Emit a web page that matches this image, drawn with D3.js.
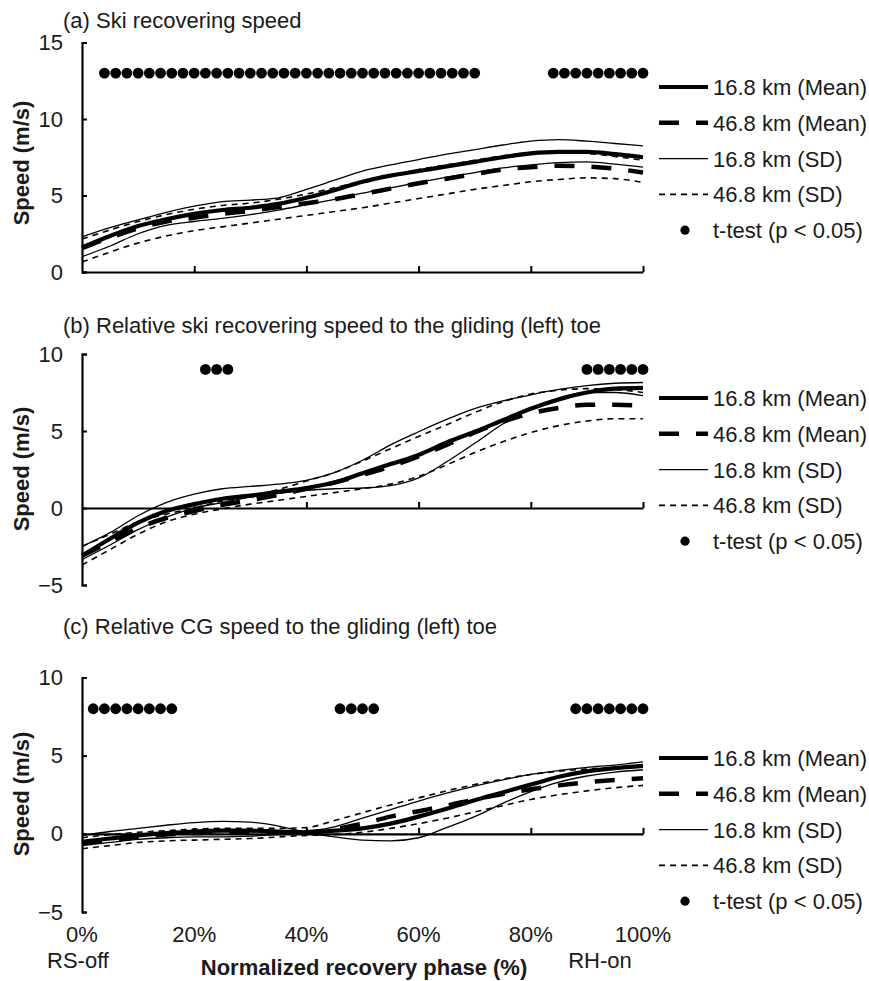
<!DOCTYPE html>
<html>
<head>
<meta charset="utf-8">
<script src="https://cdn.jsdelivr.net/npm/d3@7"></script>
<style>
  html, body { margin: 0; padding: 0; background: #fff; }
  svg { display: block; }
  text { font-family: Arial, "Liberation Sans", sans-serif; fill: #1a1a1a; }
</style>
</head>
<body>
<svg id="chart" width="869" height="981"></svg>
<script>
// ---------- DATA ----------
const phase = [0,5,10,15,20,25,30,35,40,45,50,55,60,65,70,75,80,85,90,95,100];

// (a) Ski recovering speed
const a_m16 = [1.6,2.35,3.0,3.45,3.8,4.05,4.2,4.45,4.85,5.35,5.9,6.3,6.6,6.9,7.2,7.5,7.75,7.85,7.85,7.7,7.5];
const a_u16 = [2.3,2.9,3.4,3.9,4.3,4.6,4.7,4.85,5.4,6.0,6.6,7.0,7.35,7.7,8.0,8.3,8.55,8.65,8.55,8.4,8.25];
const a_l16 = [1.0,1.7,2.5,3.05,3.3,3.5,3.75,4.05,4.4,4.75,5.15,5.5,5.85,6.2,6.5,6.8,7.0,7.15,7.2,7.05,6.85];
const a_m46 = [1.55,2.25,2.85,3.3,3.55,3.8,4.0,4.25,4.5,4.75,5.1,5.45,5.8,6.1,6.4,6.7,6.85,6.95,6.9,6.75,6.5];
const a_u46 = [2.15,2.75,3.3,3.75,4.1,4.35,4.5,4.75,5.1,5.5,5.95,6.3,6.7,7.0,7.3,7.6,7.75,7.8,7.75,7.55,7.3];
const a_l46 = [0.65,1.3,1.9,2.35,2.7,2.95,3.2,3.45,3.7,3.95,4.2,4.5,4.8,5.1,5.4,5.65,5.9,6.05,6.15,6.1,5.85];
const a_sig = [4,6,8,10,12,14,16,18,20,22,24,26,28,30,32,34,36,38,40,42,44,46,48,50,52,54,56,58,60,62,64,66,68,70,84,86,88,90,92,94,96,98,100];

// (b) Relative ski recovering speed to the gliding (left) toe
const b_m16 = [-3.1,-2.0,-0.95,-0.2,0.25,0.6,0.8,1.05,1.3,1.65,2.25,2.85,3.45,4.25,4.95,5.7,6.45,7.05,7.5,7.75,7.8];
const b_u16 = [-2.5,-1.6,-0.5,0.35,0.9,1.25,1.4,1.55,1.8,2.3,3.1,4.1,4.95,5.75,6.45,6.95,7.35,7.7,7.95,8.1,8.15];
const b_l16 = [-3.35,-2.4,-1.4,-0.6,0.0,0.35,0.7,0.95,1.15,1.25,1.3,1.45,1.95,3.0,4.2,5.45,6.45,7.15,7.5,7.5,7.3];
const b_m46 = [-3.1,-2.2,-1.3,-0.65,-0.2,0.2,0.5,0.85,1.25,1.65,2.15,2.7,3.35,4.1,4.9,5.6,6.15,6.5,6.7,6.7,6.65];
const b_u46 = [-2.5,-1.7,-0.9,-0.4,0.0,0.45,0.75,1.2,1.75,2.3,3.05,3.85,4.65,5.4,6.2,6.9,7.4,7.65,7.75,7.7,7.5];
const b_l46 = [-3.7,-2.7,-1.7,-0.9,-0.4,-0.05,0.25,0.5,0.75,1.0,1.25,1.55,2.05,2.8,3.6,4.3,4.9,5.35,5.65,5.8,5.8];
const b_sig = [22,24,26,90,92,94,96,98,100];

// (c) Relative CG speed to the gliding (left) toe
const c_m16 = [-0.5,-0.3,-0.1,0.05,0.15,0.2,0.2,0.15,0.1,0.2,0.35,0.65,1.1,1.6,2.15,2.65,3.15,3.65,4.0,4.2,4.35];
const c_u16 = [-0.1,0.15,0.35,0.55,0.72,0.8,0.75,0.5,0.15,0.45,1.0,1.55,2.1,2.6,3.05,3.45,3.8,4.05,4.25,4.4,4.6];
const c_l16 = [-0.75,-0.55,-0.35,-0.25,-0.2,-0.2,-0.15,-0.05,0.0,-0.2,-0.4,-0.45,-0.25,0.4,1.1,1.95,2.7,3.3,3.7,3.95,4.1];
const c_m46 = [-0.6,-0.4,-0.2,-0.05,0.05,0.1,0.1,0.1,0.1,0.3,0.65,1.1,1.45,1.8,2.2,2.55,2.85,3.1,3.3,3.45,3.55];
const c_u46 = [-0.25,-0.05,0.1,0.2,0.3,0.35,0.35,0.35,0.4,0.85,1.35,1.85,2.3,2.75,3.15,3.5,3.8,4.0,4.15,4.25,4.35];
const c_l46 = [-0.95,-0.75,-0.55,-0.45,-0.4,-0.35,-0.3,-0.2,-0.1,-0.05,0.1,0.35,0.65,1.0,1.4,1.8,2.2,2.5,2.75,2.95,3.1];
const c_sig = [2,4,6,8,10,12,14,16,46,48,50,52,88,90,92,94,96,98,100];

const sigLevels = [13, 9, 8];
const panelTitles = [
  "(a) Ski recovering speed",
  "(b) Relative ski recovering speed to the gliding (left) toe",
  "(c) Relative CG speed to the gliding (left) toe"
];
const yDomains = [[0, 15], [-5, 10], [-5, 10]];
const yTickVals = [[0, 5, 10, 15], [-5, 0, 5, 10], [-5, 0, 5, 10]];
const xTickVals = [0, 20, 40, 60, 80, 100];
const xTickLabels = ["0%", "20%", "40%", "60%", "80%", "100%"];
const legendLabels = ["16.8 km (Mean)", "46.8 km (Mean)", "16.8 km (SD)", "46.8 km (SD)", "t-test (p < 0.05)"];
const yLabel = "Speed (m/s)";
const xLabel = "Normalized recovery phase (%)";
const phaseEvents = ["RS-off", "RH-on"];

// ---------- LAYOUT ----------
const svg = d3.select("#chart");
const FS = 22;
const x = d3.scaleLinear().domain([0, 100]).range([82, 643]);

const panels = [
  { series: [a_u16, a_l16, a_u46, a_l46, a_m46, a_m16], sig: a_sig, range: [272, 42.5], titleY: 28, ylabY: 163, legY: 87 },
  { series: [b_u16, b_l16, b_u46, b_l46, b_m46, b_m16], sig: b_sig, range: [585, 354], titleY: 333, ylabY: 469, legY: 398 },
  { series: [c_u16, c_l16, c_u46, c_l46, c_m46, c_m16], sig: c_sig, range: [912, 677.5], titleY: 634, ylabY: 794, legY: 758 }
];

// styles: order = u16, l16, u46, l46, m46, m16
const styles = [
  { w: 1.3, dash: null },
  { w: 1.3, dash: null },
  { w: 1.6, dash: "6,5" },
  { w: 1.6, dash: "6,5" },
  { w: 4.5, dash: "20,17" },
  { w: 4.2, dash: null }
];
const legendStyles = [styles[5], styles[4], styles[0], styles[2]];

panels.forEach((p, i) => {
  const y = d3.scaleLinear().domain(yDomains[i]).range(p.range);
  const g = svg.append("g");

  // title
  g.append("text").attr("x", 63).attr("y", p.titleY)
    .style("font-size", FS + "px").text(panelTitles[i]);

  // y label
  g.append("text")
    .attr("transform", `translate(29,${p.ylabY}) rotate(-90)`)
    .attr("text-anchor", "middle")
    .style("font-size", FS + "px").style("font-weight", "bold")
    .text(yLabel);

  // y axis
  const yAxis = d3.axisLeft(y).tickValues(yTickVals[i]).tickSizeInner(-5).tickSizeOuter(-5).tickPadding(19)
    .tickFormat(d3.format("d"));
  const ya = g.append("g").attr("transform", `translate(${x(0)},0)`).call(yAxis);
  ya.selectAll("text").style("font-size", FS + "px").attr("fill", "#1a1a1a")
    .style("font-family", "Arial, 'Liberation Sans', sans-serif");
  ya.select(".domain").attr("stroke-width", 2.2);
  ya.selectAll(".tick line").attr("stroke-width", 2);

  // x axis at zero
  const xAxis = d3.axisBottom(x).tickValues(xTickVals.slice(1)).tickSizeInner(-6).tickSizeOuter(0).tickFormat("");
  const xa = g.append("g").attr("transform", `translate(0,${y(0)})`).call(xAxis);
  xa.select(".domain").attr("stroke-width", 2.2);
  xa.selectAll(".tick line").attr("stroke-width", 2);

  // lines
  const line = d3.line().x((d, k) => x(phase[k])).y(d => y(d)).curve(d3.curveMonotoneX);
  p.series.forEach((s, k) => {
    g.append("path").datum(s)
      .attr("d", line)
      .attr("fill", "none")
      .attr("stroke", "#000")
      .attr("stroke-width", styles[k].w)
      .attr("stroke-dasharray", styles[k].dash);
  });

  // significance dots
  g.selectAll("circle.sig").data(p.sig).join("circle")
    .attr("class", "sig")
    .attr("cx", d => x(d)).attr("cy", y(sigLevels[i])).attr("r", 5.4).attr("fill", "#000");

  // legend
  const lg = g.append("g");
  legendLabels.forEach((lab, k) => {
    const cy = p.legY + k * 35.8;
    if (k < 4) {
      const st = legendStyles[k];
      lg.append("line").attr("x1", 659).attr("x2", 708).attr("y1", cy).attr("y2", cy)
        .attr("stroke", "#000").attr("stroke-width", st.w).attr("stroke-dasharray", st.dash);
    } else {
      lg.append("circle").attr("cx", 685).attr("cy", cy).attr("r", 4.6).attr("fill", "#000");
    }
    lg.append("text").attr("x", 713).attr("y", cy).attr("dy", "0.36em")
      .style("font-size", FS + "px").text(lab);
  });

  // x tick labels only on bottom panel
  if (i === 2) {
    g.selectAll("text.xt").data(xTickVals).join("text")
      .attr("class", "xt")
      .attr("x", d => x(d)).attr("y", 942)
      .attr("text-anchor", "middle")
      .style("font-size", FS + "px")
      .text((d, k) => xTickLabels[k]);
    g.append("text").attr("x", 78).attr("y", 968).attr("text-anchor", "middle")
      .style("font-size", FS + "px").text(phaseEvents[0]);
    g.append("text").attr("x", 600).attr("y", 968).attr("text-anchor", "middle")
      .style("font-size", FS + "px").text(phaseEvents[1]);
    g.append("text").attr("x", 364).attr("y", 975).attr("text-anchor", "middle")
      .style("font-size", FS + "px").style("font-weight", "bold").text(xLabel);
  }
});
</script>
</body>
</html>
